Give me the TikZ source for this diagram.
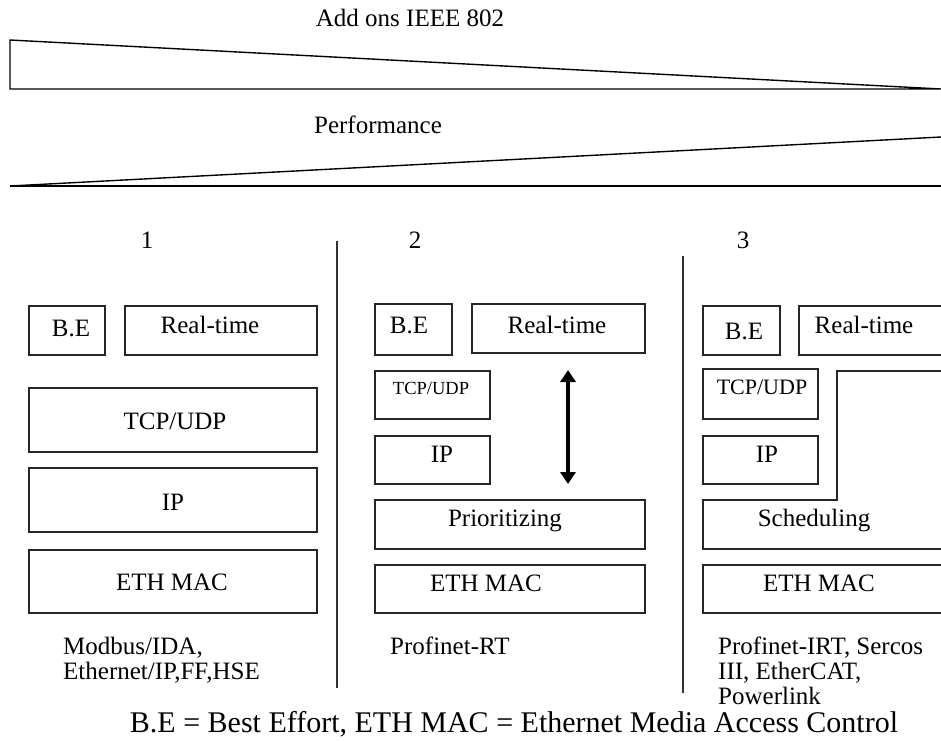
\documentclass[tikz,border=0pt]{standalone}
\usepackage{fontspec}
\setmainfont{Liberation Serif}
\usetikzlibrary{arrows.meta}
\begin{document}
\begin{tikzpicture}[x=1pt,y=-1pt,
  lbl/.style={inner sep=0pt,anchor=base,font=\fontsize{25}{25}\selectfont},
  lbll/.style={inner sep=0pt,anchor=base west,font=\fontsize{25}{25}\selectfont},
  boxline/.style={draw=black!85,line width=1.2pt},
  wedge/.style={draw=black,line width=1.4pt},
  divider/.style={draw=black!80,line width=1.1pt},
  dblarrow/.style={line width=4pt,{Triangle[length=12pt,width=15pt]}-{Triangle[length=12pt,width=15pt]}}]
\useasboundingbox (0,0) rectangle (941,740);
% top wedges
\draw[wedge] (941,89) -- (10,89) -- (10,40) -- (941,89);
\draw[wedge] (10,186) -- (941,186);
\draw[wedge] (10,186) -- (941,137);
\node[lbl] (addons) at (410,26) {Add ons IEEE 802};
\node[lbl] (perf) at (378,133) {Performance};
% column numbers
\node[lbl] (n1) at (147,248) {1};
\node[lbl] (n2) at (415,248) {2};
\node[lbl] (n3) at (743,248) {3};
% dividers
\draw[divider] (337,241) -- (337,688);
\draw[divider] (683,256) -- (683,693);
% column 1
\draw[boxline] (29,306) rectangle (105,355);
\draw[boxline] (125,306) rectangle (317,355);
\draw[boxline] (29,388) rectangle (317,452);
\draw[boxline] (29,468) rectangle (317,532);
\draw[boxline] (29,550) rectangle (317,613);
\node[lbl] (be1) at (71,336) {B.E};
\node[lbl] (rt1) at (210,333) {Real-time};
\node[lbl] (tcp1) at (175,429) {TCP/UDP};
\node[lbl] (ip1) at (173,510) {IP};
\node[lbl] (mac1) at (172,590) {ETH MAC};
% column 2
\draw[boxline] (375,304) rectangle (452,355);
\draw[boxline] (472,304) rectangle (645,353);
\draw[boxline] (375,371) rectangle (490,419);
\draw[boxline] (375,436) rectangle (490,484);
\draw[boxline] (375,500) rectangle (645,549);
\draw[boxline] (375,565) rectangle (645,613);
\node[lbl] (be2) at (409,333) {B.E};
\node[lbl] (rt2) at (557,333) {Real-time};
\node[lbl,font=\fontsize{18.5}{18.5}\selectfont] (tcp2) at (431,394) {TCP/UDP};
\node[lbl] (ip2) at (442,462) {IP};
\node[lbl] (prio) at (505,526) {Prioritizing};
\node[lbl] (mac2) at (486,591) {ETH MAC};
\coordinate (arrtop) at (568,370);
\coordinate (arrbot) at (568,484);
\draw[dblarrow] (arrtop) -- (arrbot);
% column 3
\draw[boxline] (703,306) rectangle (780,355);
\draw[boxline] (941,306) -- (799,306) -- (799,355) -- (941,355);
\draw[boxline] (703,369) rectangle (818,419);
\draw[boxline] (703,436) rectangle (818,484);
\draw[boxline] (941,371) -- (837,371) -- (837,500) -- (703,500) -- (703,549) -- (941,549);
\draw[boxline] (941,565) -- (703,565) -- (703,613) -- (941,613);
\node[lbl] (be3) at (744,339) {B.E};
\node[lbl] (rt3) at (864,333) {Real-time};
\node[lbl,font=\fontsize{22}{22}\selectfont] (tcp3) at (762,394) {TCP/UDP};
\node[lbl] (ip3) at (767,462) {IP};
\node[lbl] (sched) at (814,526) {Scheduling};
\node[lbl] (mac3) at (819,591) {ETH MAC};
% bottom labels
\node[lbll] (proto1a) at (63,654) {Modbus/IDA,};
\node[lbll] (proto1b) at (63,679) {Ethernet/IP,FF,HSE};
\node[lbll] (proto2) at (390,654) {Profinet-RT};
\node[lbll] (proto3a) at (718,654) {Profinet-IRT, Sercos};
\node[lbll] (proto3b) at (718,679) {III, EtherCAT,};
\node[lbll] (proto3c) at (718,704) {Powerlink};
\node[lbl,font=\fontsize{30}{30}\selectfont] (caption) at (514,732) {B.E = Best Effort, ETH MAC = Ethernet Media Access Control};
\end{tikzpicture}
\end{document}
